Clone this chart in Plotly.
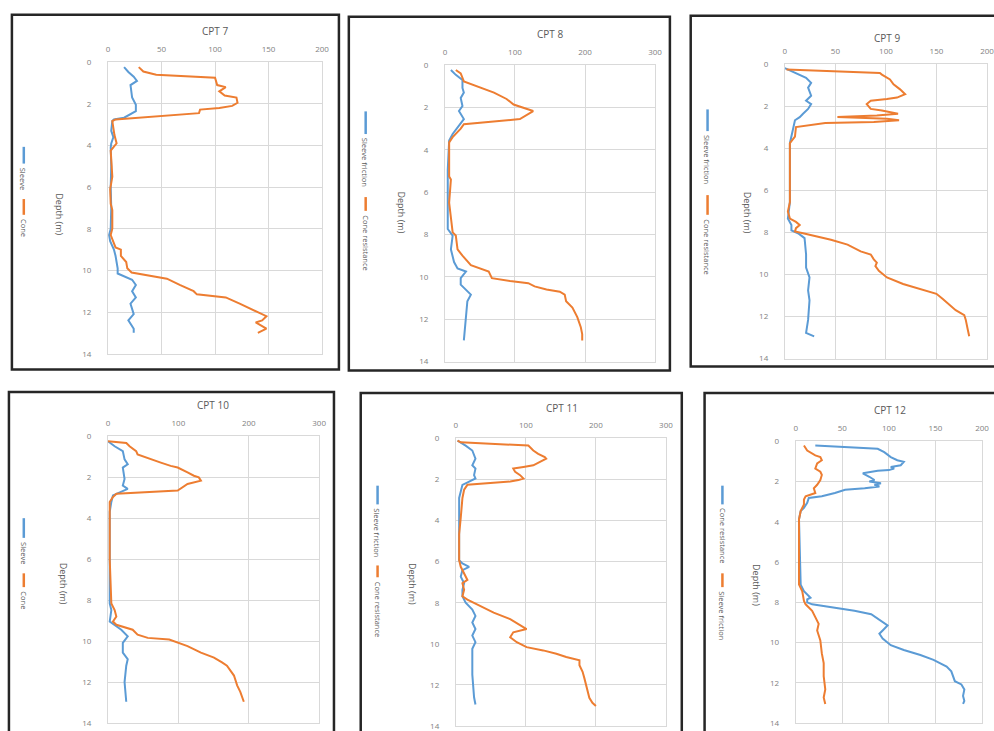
import plotly.graph_objects as go

W, H = 994, 731

# ---------------- DATA ----------------
panel_titles = ["CPT 7", "CPT 8", "CPT 9", "CPT 10", "CPT 11", "CPT 12"]

# CPT 7
cpt7_sleeve_depth = [0.24, 0.47, 0.7, 0.9, 1.1, 1.7, 2.05, 2.35, 2.67, 2.75, 2.83, 3.3, 3.6, 3.9, 4.1, 5.0, 6.0, 7.0, 8.0, 8.3, 8.6, 9.0, 9.3, 9.9, 10.15, 10.45, 10.7, 11.0, 11.3, 11.6, 12.1, 12.4, 12.8, 13.0]
cpt7_sleeve = [15, 19, 24, 27, 21, 22.5, 26, 26, 15, 5.5, 4, 3, 5, 3, 2.5, 3, 2.5, 3, 2.5, 1, 2, 5.5, 7, 9, 9, 22.5, 26, 22.5, 26, 21, 24, 19, 24, 24]
cpt7_cone_depth = [0.24, 0.45, 0.6, 0.75, 1.1, 1.2, 1.4, 1.6, 1.7, 1.95, 2.1, 2.2, 2.28, 2.45, 2.75, 2.83, 3.5, 3.9, 4.25, 5.5, 6.1, 6.8, 7.1, 8.0, 8.3, 8.9, 9.0, 9.3, 9.6, 9.9, 10.1, 10.4, 10.7, 11.0, 11.15, 11.3, 11.6, 11.95, 12.2, 12.4, 12.5, 12.8, 13.0]
cpt7_cone = [28.7, 33, 45, 100, 102, 110, 104, 109, 120, 121, 116, 104, 86, 85, 7, 4, 6, 8, 2.5, 4, 2, 2.5, 4, 4, 2.5, 7, 12, 12, 17, 18, 22, 55, 67, 80, 83, 110, 123, 137, 148, 144, 138, 148, 140]

# CPT 8
cpt8_sleeve_depth = [0.23, 0.46, 0.7, 1.08, 1.3, 1.55, 1.93, 2.17, 2.55, 2.94, 3.25, 3.56, 4.95, 6.5, 7.74, 8.05, 8.7, 9.3, 9.6, 9.75, 10.06, 10.37, 10.6, 10.84, 11.15, 11.9, 13.0]
cpt8_sleeve = [8.5, 15.5, 25, 25, 27, 22.5, 25, 20, 27, 18, 11, 6, 4, 4, 4, 11, 8.5, 13, 18, 30, 22.5, 22.5, 30, 37, 32, 30, 27]
cpt8_cone_depth = [0.23, 0.39, 0.77, 1.0, 1.3, 1.6, 1.86, 2.17, 2.55, 2.79, 3.0, 3.4, 3.65, 5.26, 5.4, 6.5, 7.9, 8.05, 8.7, 9.0, 9.45, 9.75, 10.06, 10.2, 10.3, 10.45, 10.6, 10.7, 10.84, 11.15, 11.45, 11.9, 12.38, 12.7, 13.0]
cpt8_cone = [15.5, 22.5, 27, 46, 70, 88, 98, 126, 107, 27, 22.5, 11, 6, 6, 8.5, 6, 11, 15.5, 18, 25, 37, 62.5, 67, 93, 119, 128, 145, 164, 171, 173, 182, 189, 194, 196, 196]

# CPT 9
cpt9_sleeve_depth = [0.19, 0.42, 0.65, 0.89, 1.12, 1.5, 1.74, 1.9, 2.13, 2.36, 2.52, 2.67, 3.14, 3.76, 6.56, 7.34, 7.65, 7.9, 8.04, 8.27, 9.05, 9.67, 10.14, 10.76, 11.23, 12.16, 12.78, 12.94]
cpt9_sleeve = [0, 10, 21, 26, 23, 26, 21, 26, 23, 18, 14.7, 10, 8, 5, 5, 3, 6.5, 6.5, 13, 19.5, 21, 21, 24.4, 23, 24.4, 23, 21, 29]
cpt9_cone_depth = [0.26, 0.42, 0.5, 0.73, 0.96, 1.2, 1.43, 1.59, 1.66, 1.74, 1.9, 2.13, 2.21, 2.36, 2.44, 2.52, 2.6, 2.67, 2.75, 2.8, 2.99, 3.45, 3.76, 6.56, 7.0, 7.34, 7.5, 7.65, 7.8, 7.96, 8.04, 8.35, 8.58, 8.9, 9.05, 9.28, 9.44, 9.6, 9.83, 10.14, 10.45, 10.68, 10.92, 11.15, 11.46, 11.7, 11.93, 12.16, 12.63, 12.94]
cpt9_cone = [1.6, 94, 96, 104, 107.5, 114, 119, 111, 101, 85, 81, 85, 96, 112, 91, 52, 101, 113, 88, 40, 11, 10, 5, 5, 3, 5, 11, 14.7, 11, 10, 18, 45.6, 62, 75, 85, 88, 91, 89.6, 93, 101, 117, 133.5, 150, 156, 163, 169, 177.5, 179, 181, 182.4]

# CPT 10
cpt10_sleeve_depth = [0.24, 0.48, 0.72, 1.12, 1.36, 1.52, 2.08, 2.4, 2.56, 2.72, 2.88, 3.2, 3.68, 8.16, 8.48, 9.04, 9.2, 9.44, 9.76, 10.08, 10.56, 10.88, 11.2, 12.0, 12.96]
cpt10_sleeve = [0, 9.4, 21, 23.5, 28, 21, 23.5, 21, 28, 16.5, 7, 4.7, 2.4, 2.4, 4.7, 2.4, 9.4, 18.8, 28, 21, 21, 28, 25.9, 23.5, 25.9]
cpt10_cone_depth = [0.24, 0.32, 0.48, 0.72, 0.88, 1.04, 1.28, 1.44, 1.52, 1.76, 1.92, 2.0, 2.16, 2.32, 2.48, 2.64, 2.8, 2.96, 3.2, 6.0, 8.16, 8.48, 8.8, 9.04, 9.2, 9.44, 9.68, 9.84, 9.92, 10.08, 10.24, 10.56, 10.8, 11.04, 11.2, 11.44, 11.68, 12.16, 12.48, 12.96]
cpt10_cone = [0, 26, 30.6, 40, 42, 56.5, 75, 89, 99, 113, 122, 129, 132, 113, 106, 99, 12, 7, 2.4, 2.4, 4.7, 9.4, 11.8, 7, 11.8, 35, 42, 56.5, 87, 99, 113, 132, 150.6, 162, 169, 174, 179, 183.5, 188, 193]

# CPT 11
cpt11_sleeve_depth = [0.11, 0.35, 0.59, 0.99, 1.31, 1.47, 1.79, 1.95, 2.1, 2.26, 2.9, 3.86, 5.93, 6.09, 6.25, 6.41, 6.73, 7.05, 7.37, 7.69, 8.0, 8.33, 8.64, 8.96, 9.28, 9.6, 9.92, 10.24, 11.5, 12.6, 12.95]
cpt11_sleeve = [2.4, 14, 23.5, 28, 23.5, 28, 26, 28, 19, 9.4, 4.7, 4.7, 4.7, 9.4, 19, 9.4, 7, 11.8, 9.4, 9.4, 14, 23.5, 28, 23.5, 28, 23.5, 28, 23.5, 23.5, 26, 28]
cpt11_cone_depth = [0.11, 0.19, 0.35, 0.59, 0.75, 0.91, 0.99, 1.15, 1.31, 1.39, 1.47, 1.63, 1.79, 1.95, 2.03, 2.1, 2.26, 2.5, 2.9, 3.86, 4.66, 5.93, 6.25, 6.89, 7.05, 7.37, 7.69, 7.85, 8.17, 8.48, 8.8, 9.04, 9.28, 9.44, 9.68, 9.92, 10.16, 10.32, 10.48, 10.64, 10.72, 10.8, 11.04, 11.36, 11.67, 11.99, 12.31, 12.63, 12.87, 13.03]
cpt11_cone = [2.4, 7, 103.5, 110.6, 117.6, 127, 129, 120, 110.6, 96.5, 82, 84.7, 91.8, 96.5, 89.4, 77.6, 16.5, 11.8, 9.4, 7, 4.7, 4.7, 7, 16.5, 9.4, 11.8, 9.4, 16.5, 35, 54, 77.6, 89.4, 101, 82, 77.6, 87, 101, 124.7, 143.5, 157.6, 167, 176.5, 176.5, 181, 183.5, 186, 188, 190.6, 195, 200]

# CPT 12 (blue = cone resistance, orange = sleeve friction)
cpt12_cone_depth = [0.21, 0.37, 0.54, 0.78, 0.94, 1.02, 1.19, 1.27, 1.35, 1.43, 1.46, 1.56, 1.59, 1.76, 1.92, 2.0, 2.08, 2.16, 2.24, 2.33, 2.41, 2.57, 2.65, 2.73, 2.81, 3.06, 3.3, 3.46, 3.87, 7.12, 7.45, 7.6, 7.77, 7.85, 8.0, 8.1, 8.26, 8.42, 8.59, 8.91, 9.15, 9.4, 9.56, 9.8, 10.13, 10.37, 10.62, 10.86, 11.02, 11.19, 11.43, 11.67, 11.92, 12.08, 12.33, 12.65, 12.9, 13.05]
cpt12_cone = [21, 88, 95, 102, 109, 116, 112.7, 102, 105.6, 100, 88, 77.5, 72, 79, 84.5, 79, 91.5, 84.5, 89.8, 74, 53, 42, 35, 28, 14, 12.3, 8.8, 5.3, 3.5, 5.3, 8.8, 12.3, 15.8, 12.3, 12.3, 17.6, 42, 63, 81, 91.5, 98.6, 93.3, 89.8, 93.3, 102, 116, 133.8, 147.9, 155, 162, 167, 169, 170.8, 177.8, 181, 179.6, 181, 179.6]
cpt12_sleeve_depth = [0.21, 0.46, 0.7, 0.78, 0.94, 1.1, 1.35, 1.51, 1.67, 1.92, 2.16, 2.33, 2.57, 2.73, 2.89, 3.14, 3.46, 3.87, 7.12, 7.45, 7.93, 8.1, 8.42, 8.75, 9.07, 9.4, 9.89, 10.54, 11.02, 11.67, 12.33, 12.73, 13.05]
cpt12_sleeve = [8.8, 12.3, 21, 26.4, 28, 23, 21, 26.4, 28, 26.4, 23, 19.4, 21, 10.6, 8.8, 8.8, 5.3, 3.5, 3.5, 7, 8.8, 10.6, 17.6, 21, 24.6, 23, 26.4, 28, 30, 30, 31.7, 30, 31.7]

x_ranges = [200, 300, 200, 300, 300, 200]
x_dticks = [50, 100, 50, 100, 100, 50]
legend_names = [
    ("Sleeve", "Cone"),
    ("Sleeve friction", "Cone resistance"),
    ("Sleeve friction", "Cone resistance"),
    ("Sleeve", "Cone"),
    ("Sleeve friction", "Cone resistance"),
    ("Cone resistance", "Sleeve friction"),
]
axis_title = "Depth (m)"

BLUE = "#5b9bd5"
ORANGE = "#ed7d31"

# blue series, orange series per panel
series = [
    ((cpt7_sleeve, cpt7_sleeve_depth), (cpt7_cone, cpt7_cone_depth)),
    ((cpt8_sleeve, cpt8_sleeve_depth), (cpt8_cone, cpt8_cone_depth)),
    ((cpt9_sleeve, cpt9_sleeve_depth), (cpt9_cone, cpt9_cone_depth)),
    ((cpt10_sleeve, cpt10_sleeve_depth), (cpt10_cone, cpt10_cone_depth)),
    ((cpt11_sleeve, cpt11_sleeve_depth), (cpt11_cone, cpt11_cone_depth)),
    ((cpt12_cone, cpt12_cone_depth), (cpt12_sleeve, cpt12_sleeve_depth)),
]

# ---------------- LAYOUT (pixel geometry) ----------------
# plot areas: (x_left, x_at_range_max, y_top, y_bottom)
plot_px = [
    (107, 323, 57, 353),
    (447, 659, 60, 361),
    (790, 994, 59, 358),
    (107, 320, 437, 728),
    (458, 670, 439, 731),
    (801, 989, 442, 728),
]
boxes_px = [
    (10, 340, 9, 369),
    (350, 674, 11, 370),
    (695, 1004, 10, 366),
    (7, 335, 392, 745),
    (362, 686, 393, 745),
    (709, 1004, 393, 745),
]
title_px = [(215, 25), (553, 28), (893, 32), (213, 405), (565, 408), (896, 410)]
# legend: x, blue seg (y0,y1), blue text start, orange seg, orange text start
legend_px = [
    (22, (143, 160), 162, (196, 212), 214),
    (367, (107, 130), 132, (194, 208), 210),
    (712, (105, 127), 129, (192, 212), 214),
    (22, (520, 540), 542, (576, 590), 592),
    (379, (487, 506), 508, (568, 580), 582),
    (727, (487, 506), 508, (576, 590), 592),
]
depth_title_px = [(58, 212), (403, 210), (752, 210), (62, 587), (415, 587), (762, 588)]


def fx(p):
    return p / W


def fy(p):
    return 1 - p / H


fig = go.Figure()
shapes = []
annotations = []
GRID = "#d9d9d9"
TXT = "#7f7f7f"
FONT = "Open Sans"

for i in range(6):
    n = i + 1
    xa = "x" if n == 1 else f"x{n}"
    ya = "y" if n == 1 else f"y{n}"
    (bv, bd), (ov, od) = series[i]
    bname, oname = legend_names[i]
    fig.add_trace(go.Scatter(x=bv, y=bd, mode="lines", name=bname, showlegend=False,
                             line=dict(color=BLUE, width=2), xaxis=xa, yaxis=ya))
    fig.add_trace(go.Scatter(x=ov, y=od, mode="lines", name=oname, showlegend=False,
                             line=dict(color=ORANGE, width=2), xaxis=xa, yaxis=ya))

    xl, xr, yt, yb = plot_px[i]
    xkey = "xaxis" if n == 1 else f"xaxis{n}"
    ykey = "yaxis" if n == 1 else f"yaxis{n}"
    fig.update_layout(**{
        xkey: dict(domain=[fx(xl), fx(xr)], range=[0, x_ranges[i]], dtick=x_dticks[i], tick0=0,
                   side="top", anchor=ya, showgrid=True, gridcolor=GRID, gridwidth=1,
                   zeroline=False, showline=True, mirror=True, linecolor=GRID, linewidth=1,
                   ticks="", ticklabelstandoff=6, ticklabeloverflow="allow",
                   tickfont=dict(size=8, color=TXT, family=FONT), fixedrange=True),
        ykey: dict(domain=[fy(yb), fy(yt)], range=[14, 0], dtick=2, tick0=0,
                   anchor=xa, showgrid=True, gridcolor=GRID, gridwidth=1,
                   zeroline=False, showline=True, mirror=True, linecolor=GRID, linewidth=1,
                   ticks="", ticklabelstandoff=14,
                   tickfont=dict(size=8, color=TXT, family=FONT), fixedrange=True),
    })

    bx0, bx1, by0, by1 = boxes_px[i]
    shapes.append(dict(type="rect", xref="paper", yref="paper",
                       x0=fx(bx0), x1=fx(bx1), y0=fy(by1), y1=fy(by0),
                       line=dict(color="#262626", width=2.5), fillcolor="rgba(0,0,0,0)"))

    tx, ty = title_px[i]
    annotations.append(dict(text=panel_titles[i], x=fx(tx), y=fy(ty), xref="paper", yref="paper",
                            showarrow=False, xanchor="center", yanchor="middle",
                            font=dict(size=10, color="#595959", family=FONT)))

    lx, bseg, btxt, oseg, otxt = legend_px[i]
    shapes.append(dict(type="line", xref="paper", yref="paper", x0=fx(lx), x1=fx(lx),
                       y0=fy(bseg[0]), y1=fy(bseg[1]), line=dict(color=BLUE, width=2.5)))
    shapes.append(dict(type="line", xref="paper", yref="paper", x0=fx(lx), x1=fx(lx),
                       y0=fy(oseg[0]), y1=fy(oseg[1]), line=dict(color=ORANGE, width=2.5)))
    annotations.append(dict(text=bname, x=fx(lx), y=fy(btxt), xref="paper", yref="paper",
                            showarrow=False, textangle=90, xanchor="center", yanchor="top",
                            font=dict(size=7.5, color="#595959", family=FONT)))
    annotations.append(dict(text=oname, x=fx(lx), y=fy(otxt), xref="paper", yref="paper",
                            showarrow=False, textangle=90, xanchor="center", yanchor="top",
                            font=dict(size=7.5, color="#595959", family=FONT)))

    dx, dy = depth_title_px[i]
    annotations.append(dict(text=axis_title, x=fx(dx), y=fy(dy), xref="paper", yref="paper",
                            showarrow=False, textangle=90, xanchor="center", yanchor="middle",
                            font=dict(size=9, color="#595959", family=FONT)))

fig.update_layout(width=W, height=H, margin=dict(l=0, r=0, t=0, b=0),
                  paper_bgcolor="white", plot_bgcolor="white",
                  shapes=shapes, annotations=annotations, showlegend=False)

fig.write_html("out.html", config={"displayModeBar": False},
               post_script="document.body.style.margin='0';")
